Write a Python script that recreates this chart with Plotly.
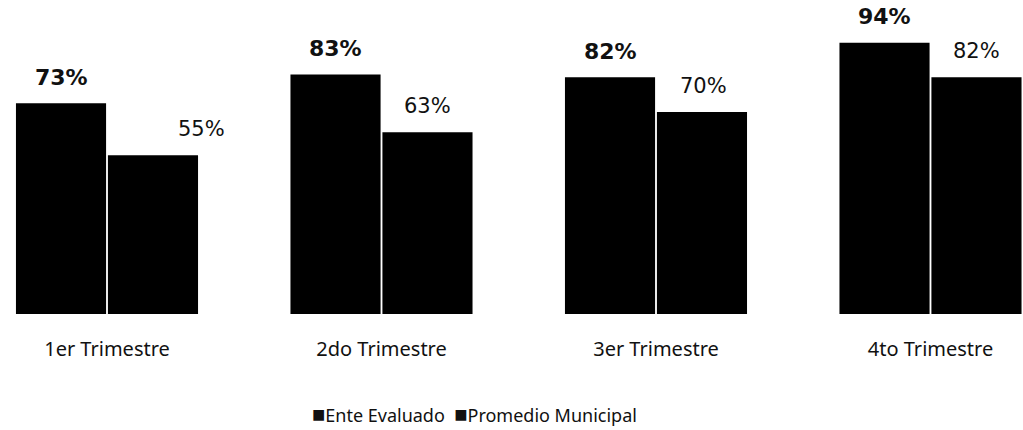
import plotly.graph_objects as go

categories = ["1er Trimestre", "2do Trimestre", "3er Trimestre", "4to Trimestre"]
ente = [73, 83, 82, 94]
promedio = [55, 63, 70, 82]
series_names = ["Ente Evaluado", "Promedio Municipal"]

# label horizontal offsets (style only, pixels relative to own bar)
prom_dx = [48, 0, 1, 0]
BAR_OFF = 46  # half of a bar slot in px

fig = go.Figure()
fig.add_trace(go.Bar(x=categories, y=ente, name=series_names[0],
                     marker=dict(color="#000000", line=dict(width=0))))
fig.add_trace(go.Bar(x=categories, y=promedio, name=series_names[1],
                     marker=dict(color="#000000", line=dict(width=0))))

for i, c in enumerate(categories):
    fig.add_annotation(x=c, y=ente[i], text=f"<b>{ente[i]}%</b>", showarrow=False,
                       xref="x", yref="y", xshift=-BAR_OFF, yshift=26,
                       yanchor="middle",
                       font=dict(family="DejaVu Sans", size=22, color="#111111"))
    fig.add_annotation(x=c, y=promedio[i], text=f"{promedio[i]}%", showarrow=False,
                       xref="x", yref="y", xshift=BAR_OFF + prom_dx[i], yshift=26,
                       yanchor="middle",
                       font=dict(family="DejaVu Sans", size=21, color="#111111"))

# legend drawn as text
sq = "<span style='font-size:22px'>■</span>"
fig.add_annotation(
    x=0.4638, y=-0.315, xref="paper", yref="paper", showarrow=False,
    xanchor="center", yanchor="middle",
    text=f"{sq}{series_names[0]}  {sq}{series_names[1]}",
    font=dict(family="Noto Sans", size=18, color="#111111"))

fig.update_layout(
    width=1023, height=430,
    margin=dict(l=0, r=0, t=0, b=116),
    paper_bgcolor="white", plot_bgcolor="white",
    barmode="group", bargap=0.33, bargroupgap=0.02,
    showlegend=False,
    xaxis=dict(range=[-0.3898, 3.3370], showgrid=False, zeroline=False, showline=False,
               ticks="outside", ticklen=17, tickcolor="rgba(0,0,0,0)",
               tickfont=dict(family="Noto Sans", size=20, color="#111111")),
    yaxis=dict(range=[0, 108.8], visible=False),
)

fig.write_html("out.html", config={"displayModeBar": False},
               post_script="document.body.style.margin='0';")
